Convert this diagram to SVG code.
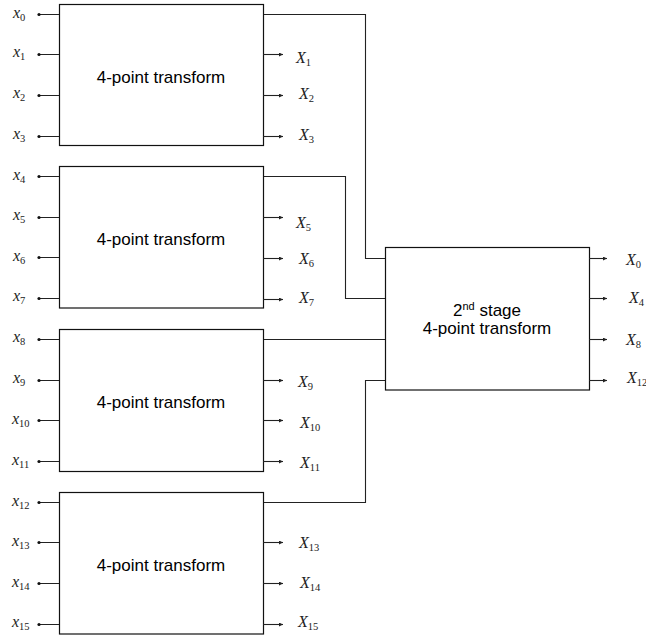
<svg xmlns="http://www.w3.org/2000/svg" width="646" height="638" viewBox="0 0 646 638">
  <style>
    .box { fill: #fff; stroke: #111; stroke-width: 1.2; }
    .wire { fill: none; stroke: #222; stroke-width: 1.1; }
    .out { fill: none; stroke: #222; stroke-width: 1.1; marker-end: url(#arrow); }
    .dot { fill: #111; }
    .title { font-family: "Liberation Sans", Arial, sans-serif; font-size: 17px; fill: #000; text-anchor: middle; }
    .var { font-family: "Liberation Serif", "Times New Roman", serif; font-size: 16px; font-style: italic; fill: #222; }
    .sub { font-size: 10.5px; font-style: normal; }
  </style>
  <defs>
    <marker id="arrow" viewBox="0 0 6 6" refX="6" refY="3" markerWidth="4" markerHeight="4" orient="auto" markerUnits="userSpaceOnUse">
      <path d="M0,0 L6,3 L0,6 z" fill="#222"/>
    </marker>
  </defs>

  <!-- connectors between the first-stage blocks and the second stage -->
  <g id="connectors">
    <path class="wire" d="M263,14.5 H365.5 V258.5 H385.5"/>
    <path class="wire" d="M263,176.5 H345.5 V298.5 H385.5"/>
    <path class="wire" d="M263,339.5 H385.5"/>
    <path class="wire" d="M263,502.5 H365.5 V380.5 H385.5"/>
  </g>

  <!-- first block: x0..x3 -->
  <g id="block1">
    <rect class="box" x="59.5" y="4.5" width="204" height="141"/>
    <text class="title" x="161" y="83">4-point transform</text>
    <path class="wire" d="M39,14.5 H59 M39,54.5 H59 M39,95.5 H59 M39,136.5 H59"/>
    <circle class="dot" cx="39" cy="14.5" r="1.6"/>
    <circle class="dot" cx="39" cy="54.5" r="1.6"/>
    <circle class="dot" cx="39" cy="95.5" r="1.6"/>
    <circle class="dot" cx="39" cy="136.5" r="1.6"/>
    <text class="var" x="13" y="18">x<tspan class="sub" dy="3">0</tspan></text>
    <text class="var" x="13" y="57">x<tspan class="sub" dy="3">1</tspan></text>
    <text class="var" x="13" y="98">x<tspan class="sub" dy="3">2</tspan></text>
    <text class="var" x="13" y="139">x<tspan class="sub" dy="3">3</tspan></text>
    <path class="out" d="M263,54.5 H283"/>
    <path class="out" d="M263,95.5 H283"/>
    <path class="out" d="M263,136.5 H283"/>
    <text class="var" x="296" y="63">X<tspan class="sub" dy="3">1</tspan></text>
    <text class="var" x="299" y="99">X<tspan class="sub" dy="3">2</tspan></text>
    <text class="var" x="299" y="140">X<tspan class="sub" dy="3">3</tspan></text>
  </g>

  <!-- second block: x4..x7 -->
  <g id="block2">
    <rect class="box" x="59.5" y="166.5" width="204" height="141.5"/>
    <text class="title" x="161" y="245">4-point transform</text>
    <path class="wire" d="M39,176.5 H59 M39,217.5 H59 M39,257.5 H59 M39,298.5 H59"/>
    <circle class="dot" cx="39" cy="176.5" r="1.6"/>
    <circle class="dot" cx="39" cy="217.5" r="1.6"/>
    <circle class="dot" cx="39" cy="257.5" r="1.6"/>
    <circle class="dot" cx="39" cy="298.5" r="1.6"/>
    <text class="var" x="13" y="180">x<tspan class="sub" dy="3">4</tspan></text>
    <text class="var" x="13" y="220">x<tspan class="sub" dy="3">5</tspan></text>
    <text class="var" x="13" y="261">x<tspan class="sub" dy="3">6</tspan></text>
    <text class="var" x="13" y="301">x<tspan class="sub" dy="3">7</tspan></text>
    <path class="out" d="M263,217.5 H283"/>
    <path class="out" d="M263,258.5 H283"/>
    <path class="out" d="M263,299.5 H283"/>
    <text class="var" x="296" y="228">X<tspan class="sub" dy="3">5</tspan></text>
    <text class="var" x="299" y="264">X<tspan class="sub" dy="3">6</tspan></text>
    <text class="var" x="299" y="303">X<tspan class="sub" dy="3">7</tspan></text>
  </g>

  <!-- third block: x8..x11 -->
  <g id="block3">
    <rect class="box" x="59.5" y="329.5" width="204" height="142"/>
    <text class="title" x="161" y="408">4-point transform</text>
    <path class="wire" d="M39,339.5 H59 M39,380.5 H59 M39,420.5 H59 M39,461.5 H59"/>
    <circle class="dot" cx="39" cy="339.5" r="1.6"/>
    <circle class="dot" cx="39" cy="380.5" r="1.6"/>
    <circle class="dot" cx="39" cy="420.5" r="1.6"/>
    <circle class="dot" cx="39" cy="461.5" r="1.6"/>
    <text class="var" x="13" y="342">x<tspan class="sub" dy="3">8</tspan></text>
    <text class="var" x="13" y="383">x<tspan class="sub" dy="3">9</tspan></text>
    <text class="var" x="12" y="424">x<tspan class="sub" dy="3">10</tspan></text>
    <text class="var" x="12" y="465">x<tspan class="sub" dy="3">11</tspan></text>
    <path class="out" d="M263,380.5 H283"/>
    <path class="out" d="M263,420.5 H283"/>
    <path class="out" d="M263,461.5 H283"/>
    <text class="var" x="298" y="387">X<tspan class="sub" dy="3">9</tspan></text>
    <text class="var" x="300" y="428">X<tspan class="sub" dy="3">10</tspan></text>
    <text class="var" x="300" y="468">X<tspan class="sub" dy="3">11</tspan></text>
  </g>

  <!-- fourth block: x12..x15 -->
  <g id="block4">
    <rect class="box" x="59.5" y="492.5" width="204" height="141.5"/>
    <text class="title" x="161" y="571">4-point transform</text>
    <path class="wire" d="M39,502.5 H59 M39,542.5 H59 M39,583.5 H59 M39,624.5 H59"/>
    <circle class="dot" cx="39" cy="502.5" r="1.6"/>
    <circle class="dot" cx="39" cy="542.5" r="1.6"/>
    <circle class="dot" cx="39" cy="583.5" r="1.6"/>
    <circle class="dot" cx="39" cy="624.5" r="1.6"/>
    <text class="var" x="12" y="506">x<tspan class="sub" dy="3">12</tspan></text>
    <text class="var" x="12" y="546">x<tspan class="sub" dy="3">13</tspan></text>
    <text class="var" x="12" y="587">x<tspan class="sub" dy="3">14</tspan></text>
    <text class="var" x="12" y="627">x<tspan class="sub" dy="3">15</tspan></text>
    <path class="out" d="M263,542.5 H283"/>
    <path class="out" d="M263,583.5 H283"/>
    <path class="out" d="M263,624.5 H283"/>
    <text class="var" x="299" y="548">X<tspan class="sub" dy="3">13</tspan></text>
    <text class="var" x="300" y="588">X<tspan class="sub" dy="3">14</tspan></text>
    <text class="var" x="298" y="627">X<tspan class="sub" dy="3">15</tspan></text>
  </g>

  <!-- second stage block -->
  <g id="stage2">
    <rect class="box" x="385.5" y="247.5" width="204" height="142.5"/>
    <text class="title" x="487" y="316">2<tspan font-size="11" dy="-6">nd</tspan><tspan dy="6"> stage</tspan></text>
    <text class="title" x="487" y="334">4-point transform</text>
    <path class="out" d="M589,258.5 H607"/>
    <path class="out" d="M589,298.5 H607"/>
    <path class="out" d="M589,339.5 H607"/>
    <path class="out" d="M589,380.5 H607"/>
    <text class="var" x="626" y="265">X<tspan class="sub" dy="3">0</tspan></text>
    <text class="var" x="629" y="303">X<tspan class="sub" dy="3">4</tspan></text>
    <text class="var" x="626" y="345">X<tspan class="sub" dy="3">8</tspan></text>
    <text class="var" x="627" y="383">X<tspan class="sub" dy="3">12</tspan></text>
  </g>
</svg>
